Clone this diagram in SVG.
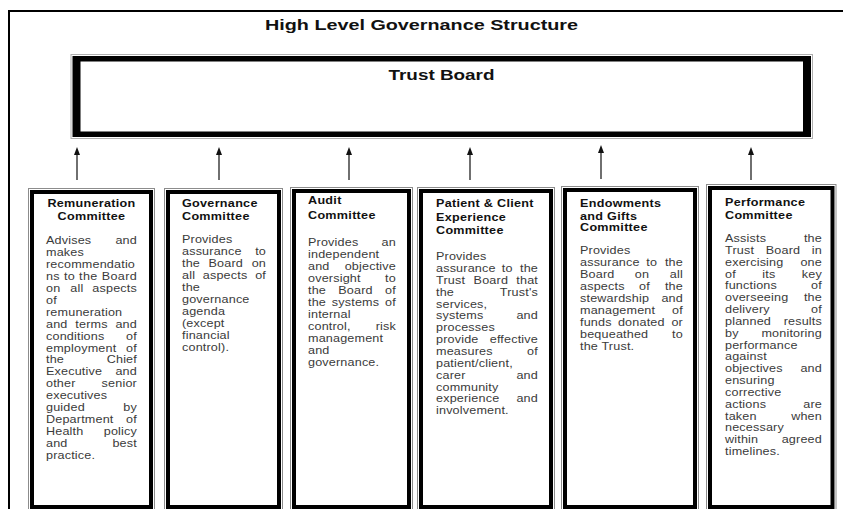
<svg xmlns="http://www.w3.org/2000/svg" width="843" height="509" viewBox="0 0 843 509">
  <defs>
    <style>
      .title { font-family: "Liberation Sans", Arial, sans-serif; font-weight: bold; fill: #111; }
      .head { font-family: "Liberation Sans", Arial, sans-serif; font-weight: bold; font-size: 10.5px; letter-spacing: 0.25px; fill: #111; }
      .body { font-family: "Liberation Sans", Arial, sans-serif; font-size: 10.5px; letter-spacing: 0.15px; fill: #3a3a3a; }
      .r { text-anchor: end; }
      .m { text-anchor: middle; }
      .edge { fill: none; stroke: #8c8c8c; stroke-width: 1; }
      .frame { fill: none; stroke: #000; stroke-width: 4; }
      .link { stroke: #222; stroke-width: 1.3; fill: none; marker-end: url(#head); }
    </style>
    <marker id="head" viewBox="0 0 8 6" markerWidth="8" markerHeight="6" refX="2" refY="3" orient="auto" markerUnits="userSpaceOnUse">
      <path d="M0,0 L8,3 L0,6 Z" fill="#111"/>
    </marker>
  </defs>

  <rect width="843" height="509" fill="#fff"/>

  <!-- page border -->
  <path d="M9 509 V11 H843" fill="none" stroke="#000" stroke-width="2"/>

  <text class="title" x="421.5" y="29.5" font-size="15.5" text-anchor="middle" textLength="313" lengthAdjust="spacingAndGlyphs">High Level Governance Structure</text>

  <!-- Trust Board -->
  <g id="trust-board">
    <rect x="71" y="54.5" width="741.5" height="84" fill="none" stroke="#b0b0b0" stroke-width="1"/>
    <path d="M72.5 56 H811 V137 H72.5 Z M80.5 61.5 V131.5 H803 V61.5 Z" fill="#000" fill-rule="evenodd"/>
    <text class="title" x="441.5" y="80" font-size="15" text-anchor="middle" textLength="106" lengthAdjust="spacingAndGlyphs">Trust Board</text>
  </g>

  <!-- reporting lines up to the board -->
  <g id="connectors">
    <line class="link" x1="77" y1="180" x2="77" y2="153"/>
    <line class="link" x1="219" y1="180" x2="219" y2="153"/>
    <line class="link" x1="349" y1="180" x2="349" y2="153"/>
    <line class="link" x1="470" y1="180" x2="470" y2="153"/>
    <line class="link" x1="601" y1="179" x2="601" y2="151"/>
    <line class="link" x1="751" y1="180" x2="751" y2="153"/>
  </g>

  <!-- Remuneration Committee -->
  <g id="remuneration">
    <rect class="edge" x="28.5" y="188.5" width="126" height="340"/>
    <rect class="frame" x="32" y="192" width="119" height="315"/>
    <g transform="translate(46 0) scale(1.2 1)">
      <text class="head m" x="37.9" y="207">Remuneration</text>
      <text class="head m" x="37.9" y="220">Committee</text>
      <text class="body" x="0" y="244.5">Advises</text><text class="body r" x="75.8" y="244.5">and</text>
      <text class="body" x="0" y="256.4">makes</text>
      <text class="body" x="0" y="268.3">recommendatio</text>
      <text class="body" x="0" y="280.2" textLength="75.8" lengthAdjust="spacing">ns to the Board</text>
      <text class="body" x="0" y="292.1">on</text><text class="body m" x="25.7" y="292.1">all</text><text class="body r" x="75.8" y="292.1">aspects</text>
      <text class="body" x="0" y="304">of</text>
      <text class="body" x="0" y="315.9">remuneration</text>
      <text class="body" x="0" y="327.8">and</text><text class="body m" x="37.9" y="327.8">terms</text><text class="body r" x="75.8" y="327.8">and</text>
      <text class="body" x="0" y="339.7">conditions</text><text class="body r" x="75.8" y="339.7">of</text>
      <text class="body" x="0" y="351.6">employment</text><text class="body r" x="75.8" y="351.6">of</text>
      <text class="body" x="0" y="363.5">the</text><text class="body r" x="75.8" y="363.5">Chief</text>
      <text class="body" x="0" y="375.4">Executive</text><text class="body r" x="75.8" y="375.4">and</text>
      <text class="body" x="0" y="387.3">other</text><text class="body r" x="75.8" y="387.3">senior</text>
      <text class="body" x="0" y="399.2">executives</text>
      <text class="body" x="0" y="411.1">guided</text><text class="body r" x="75.8" y="411.1">by</text>
      <text class="body" x="0" y="423">Department</text><text class="body r" x="75.8" y="423">of</text>
      <text class="body" x="0" y="434.9">Health</text><text class="body r" x="75.8" y="434.9">policy</text>
      <text class="body" x="0" y="446.8">and</text><text class="body r" x="75.8" y="446.8">best</text>
      <text class="body" x="0" y="458.7">practice.</text>
    </g>
  </g>

  <!-- Governance Committee -->
  <g id="governance">
    <rect class="edge" x="164.5" y="188.5" width="118" height="340"/>
    <rect class="frame" x="168" y="192" width="111" height="315"/>
    <g transform="translate(182 0) scale(1.2 1)">
      <text class="head" x="0" y="207">Governance</text>
      <text class="head" x="0" y="220">Committee</text>
      <text class="body" x="0" y="243.5">Provides</text>
      <text class="body" x="0" y="255.4">assurance</text><text class="body r" x="70" y="255.4">to</text>
      <text class="body" x="0" y="267.3">the</text><text class="body m" x="36.5" y="267.3">Board</text><text class="body r" x="70" y="267.3">on</text>
      <text class="body" x="0" y="279.2">all</text><text class="body m" x="35.9" y="279.2">aspects</text><text class="body r" x="70" y="279.2">of</text>
      <text class="body" x="0" y="291.1">the</text>
      <text class="body" x="0" y="303">governance</text>
      <text class="body" x="0" y="314.9">agenda</text>
      <text class="body" x="0" y="326.8">(except</text>
      <text class="body" x="0" y="338.7">financial</text>
      <text class="body" x="0" y="350.6">control).</text>
    </g>
  </g>

  <!-- Audit Committee -->
  <g id="audit">
    <rect class="edge" x="290.5" y="187.5" width="122" height="340"/>
    <rect class="frame" x="294" y="191" width="115" height="316"/>
    <g transform="translate(308 0) scale(1.2 1)">
      <text class="head" x="0" y="204">Audit</text>
      <text class="head" x="0" y="219">Committee</text>
      <text class="body" x="0" y="246.2">Provides</text><text class="body r" x="73.3" y="246.2">an</text>
      <text class="body" x="0" y="258.2">independent</text>
      <text class="body" x="0" y="270.2">and</text><text class="body r" x="73.3" y="270.2">objective</text>
      <text class="body" x="0" y="282.2">oversight</text><text class="body r" x="73.3" y="282.2">to</text>
      <text class="body" x="0" y="294.2">the</text><text class="body m" x="39.6" y="294.2">Board</text><text class="body r" x="73.3" y="294.2">of</text>
      <text class="body" x="0" y="306.2">the</text><text class="body m" x="39.6" y="306.2">systems</text><text class="body r" x="73.3" y="306.2">of</text>
      <text class="body" x="0" y="318.2">internal</text>
      <text class="body" x="0" y="330.2">control,</text><text class="body r" x="73.3" y="330.2">risk</text>
      <text class="body" x="0" y="342.2">management</text>
      <text class="body" x="0" y="354.2">and</text>
      <text class="body" x="0" y="366.2">governance.</text>
    </g>
  </g>

  <!-- Patient & Client Experience Committee -->
  <g id="patient-client-experience">
    <rect class="edge" x="417.5" y="187.5" width="137" height="340"/>
    <rect class="frame" x="421" y="191" width="130" height="316"/>
    <g transform="translate(436 0) scale(1.2 1)">
      <text class="head" x="0" y="207.3">Patient &amp; Client</text>
      <text class="head" x="0" y="221.5">Experience</text>
      <text class="head" x="0" y="234">Committee</text>
      <text class="body" x="0" y="260.2">Provides</text>
      <text class="body" x="0" y="272.1">assurance</text><text class="body m" x="59.4" y="272.1">to</text><text class="body r" x="85" y="272.1">the</text>
      <text class="body" x="0" y="283.9">Trust</text><text class="body m" x="45.7" y="283.9">Board</text><text class="body r" x="85" y="283.9">that</text>
      <text class="body" x="0" y="295.8">the</text><text class="body r" x="85" y="295.8">Trust's</text>
      <text class="body" x="0" y="307.6">services,</text>
      <text class="body" x="0" y="319.5">systems</text><text class="body r" x="85" y="319.5">and</text>
      <text class="body" x="0" y="331.3">processes</text>
      <text class="body" x="0" y="343.2">provide</text><text class="body r" x="85" y="343.2">effective</text>
      <text class="body" x="0" y="355">measures</text><text class="body r" x="85" y="355">of</text>
      <text class="body" x="0" y="366.9">patient/client,</text>
      <text class="body" x="0" y="378.7">carer</text><text class="body r" x="85" y="378.7">and</text>
      <text class="body" x="0" y="390.6">community</text>
      <text class="body" x="0" y="402.4">experience</text><text class="body r" x="85" y="402.4">and</text>
      <text class="body" x="0" y="414.3">involvement.</text>
    </g>
  </g>

  <!-- Endowments and Gifts Committee -->
  <g id="endowments-gifts">
    <rect class="edge" x="561.5" y="186.5" width="137" height="340"/>
    <rect class="frame" x="565" y="190" width="130" height="317"/>
    <g transform="translate(580 0) scale(1.2 1)">
      <text class="head" x="0" y="207.3">Endowments</text>
      <text class="head" x="0" y="219.7">and Gifts</text>
      <text class="head" x="0" y="231.5">Committee</text>
      <text class="body" x="0" y="254.5">Provides</text>
      <text class="body" x="0" y="266.5">assurance</text><text class="body m" x="59.8" y="266.5">to</text><text class="body r" x="85.8" y="266.5">the</text>
      <text class="body" x="0" y="278.4">Board</text><text class="body m" x="51.7" y="278.4">on</text><text class="body r" x="85.8" y="278.4">all</text>
      <text class="body" x="0" y="290.4">aspects</text><text class="body m" x="53.7" y="290.4">of</text><text class="body r" x="85.8" y="290.4">the</text>
      <text class="body" x="0" y="302.3">stewardship</text><text class="body r" x="85.8" y="302.3">and</text>
      <text class="body" x="0" y="314.3">management</text><text class="body r" x="85.8" y="314.3">of</text>
      <text class="body" x="0" y="326.3">funds</text><text class="body m" x="51.1" y="326.3">donated</text><text class="body r" x="85.8" y="326.3">or</text>
      <text class="body" x="0" y="338.2">bequeathed</text><text class="body r" x="85.8" y="338.2">to</text>
      <text class="body" x="0" y="350.2">the Trust.</text>
    </g>
  </g>

  <!-- Performance Committee -->
  <g id="performance">
    <rect class="edge" x="706.5" y="184.5" width="129.5" height="340"/>
    <rect class="frame" x="710" y="188" width="122.5" height="319"/>
    <g transform="translate(725 0) scale(1.2 1)">
      <text class="head" x="0" y="206.3">Performance</text>
      <text class="head" x="0" y="218.7">Committee</text>
      <text class="body" x="0" y="242.2">Assists</text><text class="body r" x="80.8" y="242.2">the</text>
      <text class="body" x="0" y="254">Trust</text><text class="body m" x="48.3" y="254">Board</text><text class="body r" x="80.8" y="254">in</text>
      <text class="body" x="0" y="265.9">exercising</text><text class="body r" x="80.8" y="265.9">one</text>
      <text class="body" x="0" y="277.7">of</text><text class="body m" x="36.6" y="277.7">its</text><text class="body r" x="80.8" y="277.7">key</text>
      <text class="body" x="0" y="289.5">functions</text><text class="body r" x="80.8" y="289.5">of</text>
      <text class="body" x="0" y="301.4">overseeing</text><text class="body r" x="80.8" y="301.4">the</text>
      <text class="body" x="0" y="313.2">delivery</text><text class="body r" x="80.8" y="313.2">of</text>
      <text class="body" x="0" y="325">planned</text><text class="body r" x="80.8" y="325">results</text>
      <text class="body" x="0" y="336.8">by</text><text class="body r" x="80.8" y="336.8">monitoring</text>
      <text class="body" x="0" y="348.7">performance</text>
      <text class="body" x="0" y="360.5">against</text>
      <text class="body" x="0" y="372.3">objectives</text><text class="body r" x="80.8" y="372.3">and</text>
      <text class="body" x="0" y="384.2">ensuring</text>
      <text class="body" x="0" y="396">corrective</text>
      <text class="body" x="0" y="407.8">actions</text><text class="body r" x="80.8" y="407.8">are</text>
      <text class="body" x="0" y="419.7">taken</text><text class="body r" x="80.8" y="419.7">when</text>
      <text class="body" x="0" y="431.5">necessary</text>
      <text class="body" x="0" y="443.3">within</text><text class="body r" x="80.8" y="443.3">agreed</text>
      <text class="body" x="0" y="455.1">timelines.</text>
    </g>
  </g>
</svg>
